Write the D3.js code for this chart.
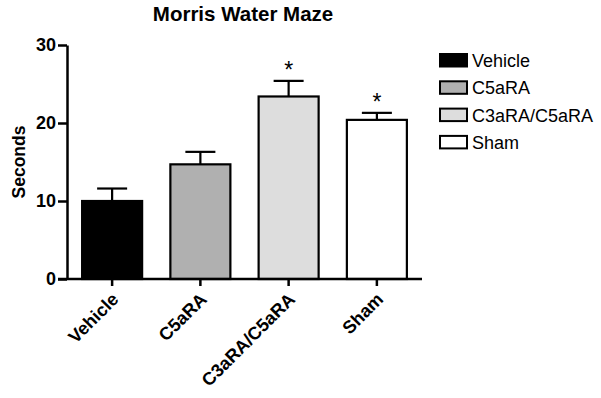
<!DOCTYPE html>
<html>
<head>
<meta charset="utf-8">
<script src="https://cdn.jsdelivr.net/npm/d3@7"></script>
<style>
    body { margin: 0; background: #fff; }
    svg { font-family: "Liberation Sans", Arial, sans-serif; }
</style>
</head>
<body>
<div id="chart"></div>
<script>
// data
const groups = ["Vehicle", "C5aRA", "C3aRA/C5aRA", "Sham"];
const means = [10.0, 14.7, 23.4, 20.4];
const errors = [1.6, 1.6, 2.0, 0.9];
const significant = [false, false, true, true];
const fills = ["#000000", "#b0b0b0", "#dddddd", "#ffffff"];
const yTicks = [0, 10, 20, 30];

const W = 601, H = 398;

let svg = d3.select("#chart").append("svg")
    .attr("width", W)
    .attr("height", H);

// scales
let x = d3.scaleBand()
    .domain(groups)
    .range([68, 421])
    .paddingInner(0.32)
    .paddingOuter(0.16);

let y = d3.scaleLinear()
    .domain([0, 30])
    .range([279, 45]);

let color = d3.scaleOrdinal()
    .domain(groups)
    .range(fills);

// title
svg.append("text")
    .attr("x", 243)
    .attr("y", 21)
    .attr("text-anchor", "middle")
    .attr("font-size", 20.5)
    .attr("font-weight", "bold")
    .text("Morris Water Maze");

// y axis label
svg.append("text")
    .attr("transform", "translate(25, 162) rotate(-90)")
    .attr("text-anchor", "middle")
    .attr("font-size", 17.5)
    .attr("font-weight", "bold")
    .text("Seconds");

// bars
svg.selectAll(".bar")
    .data(groups)
    .enter().append("rect")
    .attr("class", "bar")
    .attr("x", d => x(d))
    .attr("y", (d, i) => y(means[i]))
    .attr("width", x.bandwidth())
    .attr("height", (d, i) => y(0) - y(means[i]))
    .attr("fill", d => color(d))
    .attr("stroke", "#000")
    .attr("stroke-width", 2.2);

// error bars (upper only)
let errG = svg.append("g").attr("stroke", "#000").attr("stroke-width", 2.2);
groups.forEach((g, i) => {
    let cx = x(g) + x.bandwidth() / 2;
    errG.append("line")
        .attr("x1", cx).attr("x2", cx)
        .attr("y1", y(means[i])).attr("y2", y(means[i] + errors[i]));
    errG.append("line")
        .attr("x1", cx - x.bandwidth() / 4).attr("x2", cx + x.bandwidth() / 4)
        .attr("y1", y(means[i] + errors[i])).attr("y2", y(means[i] + errors[i]));
    if (significant[i]) {
        svg.append("text")
            .attr("x", cx)
            .attr("y", y(means[i] + errors[i]) - 3)
            .attr("text-anchor", "middle")
            .attr("font-size", 23)
            .text("*");
    }
});

// axes
let yAxis = svg.append("g")
    .attr("transform", "translate(67,0)")
    .call(d3.axisLeft(y).tickValues(yTicks).tickSize(9).tickPadding(2).tickSizeOuter(0));

let xAxis = svg.append("g")
    .attr("transform", `translate(0,${y(0)})`)
    .call(d3.axisBottom(x).tickSize(7).tickSizeOuter(0));

xAxis.select(".domain").attr("d", "M58,0H422");

[yAxis, xAxis].forEach(a => {
    a.selectAll("path, line").attr("stroke", "#000").attr("stroke-width", 2.5);
    a.selectAll("text")
        .attr("fill", "#000")
        .attr("font-family", "Liberation Sans, Arial, sans-serif")
        .attr("font-weight", "bold");
});

yAxis.selectAll("text").attr("font-size", 18);

xAxis.selectAll("text")
    .attr("font-size", 18)
    .attr("text-anchor", "end")
    .attr("dy", "0.35em")
    .attr("transform", "translate(3,17) rotate(-45)")
    .attr("y", 0)
    .attr("x", 0);

// legend
let legend = svg.append("g")
    .selectAll("g")
    .data(groups)
    .enter().append("g")
    .attr("transform", (d, i) => `translate(440, ${54 + i * 27.3})`);

legend.append("rect")
    .attr("width", 27)
    .attr("height", 12.5)
    .attr("fill", d => color(d))
    .attr("stroke", "#000")
    .attr("stroke-width", 2);

legend.append("text")
    .attr("x", 32)
    .attr("y", 13)
    .attr("font-size", 18)
    .text(d => d);
</script>
</body>
</html>
